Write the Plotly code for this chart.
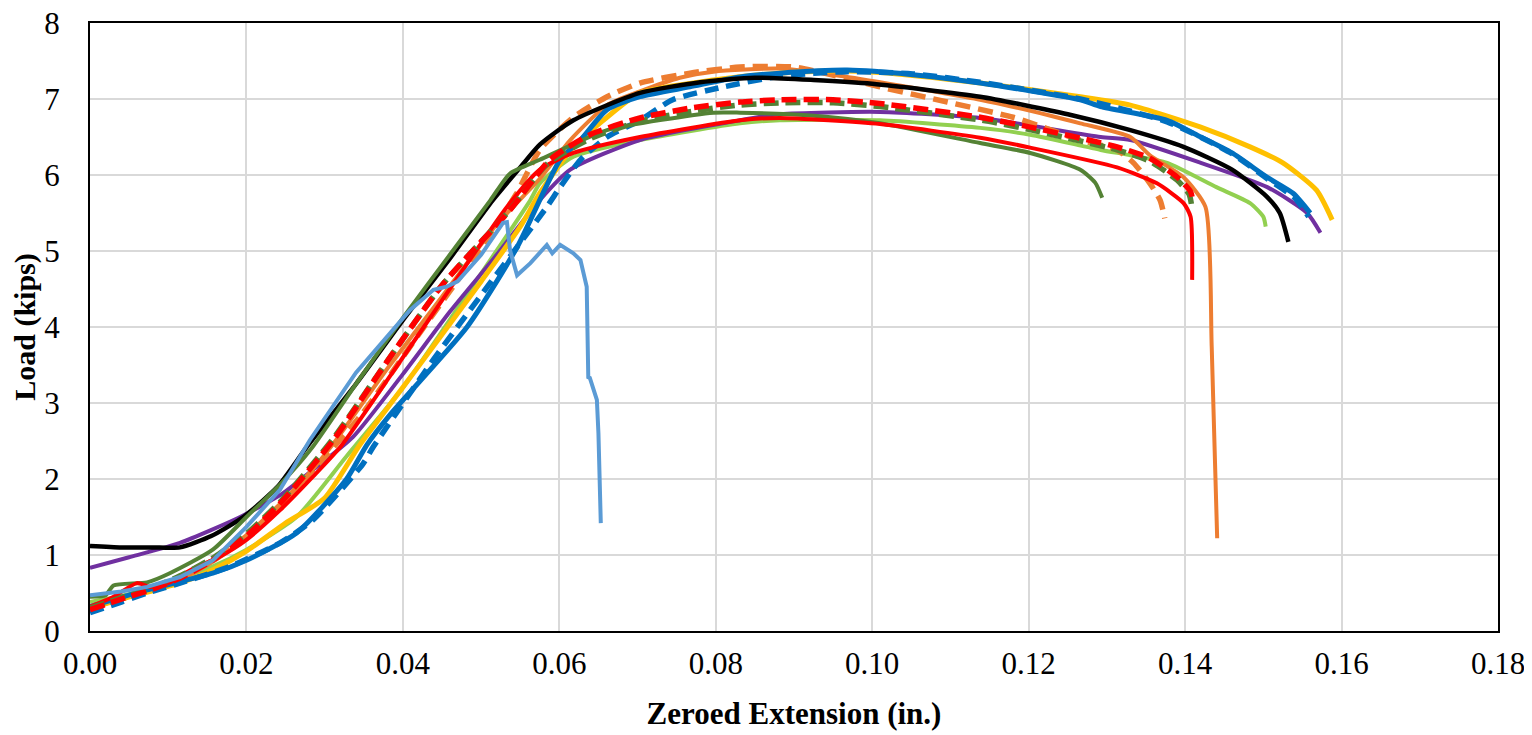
import plotly.graph_objects as go

# ---------------- data ----------------
black_x = [0, 0.004, 0.008, 0.0115, 0.0155, 0.0196, 0.024, 0.0277, 0.034, 0.04, 0.046, 0.0515, 0.055, 0.0575,
           0.0618, 0.0703, 0.078, 0.085, 0.0925, 0.1, 0.1138, 0.125, 0.133, 0.1398, 0.146, 0.1505, 0.1521, 0.1532]
black_y = [1.12, 1.1, 1.1, 1.1, 1.25, 1.5, 1.9, 2.42, 3.25, 4.09, 4.9, 5.67, 6.1, 6.4,
           6.72, 7.08, 7.22, 7.28, 7.25, 7.2, 7.03, 6.8, 6.59, 6.37, 6.07, 5.71, 5.5, 5.12]

purple_x = [0, 0.005, 0.0115, 0.0192, 0.0245, 0.0285, 0.0336, 0.04, 0.046, 0.052, 0.0575, 0.0614, 0.0703,
            0.0831, 0.0882, 0.101, 0.1138, 0.1292, 0.133, 0.142, 0.1505, 0.1556, 0.1573]
purple_y = [0.83, 0.97, 1.16, 1.5, 1.8, 2.12, 2.55, 3.38, 4.2, 4.95, 5.67, 6.07, 6.46,
            6.72, 6.8, 6.83, 6.75, 6.5, 6.46, 6.16, 5.84, 5.5, 5.24]

dkgreen_x = [0, 0.002, 0.003, 0.0073, 0.0102, 0.0157, 0.02, 0.0245, 0.0283, 0.034, 0.04, 0.046, 0.0512, 0.0537,
             0.0575, 0.0661, 0.0797, 0.0831, 0.0925, 0.101, 0.1138, 0.1202, 0.1266, 0.1285, 0.1294]
dkgreen_y = [0.45, 0.47, 0.6, 0.64, 0.76, 1.07, 1.5, 1.95, 2.4, 3.25, 4.12, 4.95, 5.67, 6.02,
             6.2, 6.59, 6.82, 6.82, 6.78, 6.68, 6.42, 6.29, 6.07, 5.9, 5.7]

ltblue_x = [0, 0.004, 0.0073, 0.0115, 0.0157, 0.02, 0.0243, 0.0281, 0.034, 0.0409, 0.0439, 0.0456, 0.047, 0.05,
            0.0528, 0.0533, 0.0537, 0.0546, 0.0563, 0.0584, 0.0591, 0.0601, 0.0618, 0.0627, 0.0635, 0.0637,
            0.0639, 0.0648, 0.065, 0.0653]
ltblue_y = [0.47, 0.52, 0.58, 0.71, 0.93, 1.37, 1.86, 2.51, 3.4, 4.22, 4.49, 4.53, 4.6, 4.95,
            5.37, 5.38, 5.01, 4.68, 4.84, 5.08, 4.97, 5.08, 4.97, 4.88, 4.53, 3.34,
            3.33, 3.04, 2.6, 1.42]

red_x = [0, 0.003, 0.006, 0.0077, 0.0102, 0.0128, 0.0166, 0.02, 0.0243, 0.0285, 0.032, 0.038, 0.044, 0.05,
         0.0533, 0.0575, 0.0618, 0.0703, 0.0831, 0.0882, 0.101, 0.1138, 0.1202, 0.1313, 0.1364, 0.1398,
         0.1407, 0.1409]
red_y = [0.32, 0.45, 0.63, 0.58, 0.64, 0.8, 0.98, 1.2, 1.59, 2.03, 2.42, 3.3, 4.2, 5.1,
         5.58, 6.07, 6.29, 6.5, 6.72, 6.75, 6.67, 6.49, 6.36, 6.1, 5.89, 5.63,
         5.45, 4.62]

reddash_x = [0, 0.004, 0.008, 0.012, 0.016, 0.02, 0.0245, 0.0311, 0.038, 0.045, 0.0537, 0.0588, 0.0639, 0.0703,
             0.0767, 0.0831, 0.0882, 0.095, 0.101, 0.1138, 0.1202, 0.1313, 0.1355, 0.139, 0.1407, 0.141]
reddash_y = [0.28, 0.42, 0.55, 0.72, 0.95, 1.25, 1.7, 2.51, 3.55, 4.55, 5.54, 6.2, 6.53, 6.75,
             6.88, 6.96, 6.99, 6.99, 6.94, 6.76, 6.63, 6.37, 6.22, 5.97, 5.78, 5.64]

dkgreendash_x = [0, 0.004, 0.008, 0.012, 0.016, 0.02, 0.0245, 0.031, 0.038, 0.045, 0.0535, 0.0585, 0.064, 0.0705,
                 0.077, 0.083, 0.0885, 0.095, 0.101, 0.114, 0.12, 0.1313, 0.1355, 0.139, 0.1405, 0.1408]
dkgreendash_y = [0.3, 0.44, 0.57, 0.75, 0.98, 1.28, 1.72, 2.52, 3.55, 4.55, 5.52, 6.15, 6.48, 6.71,
                 6.84, 6.92, 6.95, 6.95, 6.9, 6.72, 6.6, 6.33, 6.18, 5.93, 5.75, 5.62]

orange_x = [0, 0.004, 0.008, 0.012, 0.016, 0.02, 0.025, 0.031, 0.038, 0.045, 0.052, 0.0575, 0.0614, 0.0661,
            0.0703, 0.0754, 0.0797, 0.088, 0.095, 0.101, 0.1138, 0.1228, 0.1266, 0.133, 0.1355, 0.1398,
            0.1426, 0.1434, 0.1441]
orange_y = [0.3, 0.42, 0.55, 0.7, 0.93, 1.22, 1.7, 2.45, 3.45, 4.4, 5.35, 5.95, 6.46, 6.92,
            7.1, 7.28, 7.36, 7.4, 7.32, 7.22, 6.99, 6.78, 6.68, 6.5, 6.26, 5.97,
            5.58, 3.74, 1.22]

orangedash_x = [0, 0.004, 0.008, 0.012, 0.016, 0.02, 0.025, 0.0345, 0.042, 0.05, 0.0545, 0.0575, 0.0618, 0.0661,
                0.0703, 0.0767, 0.0831, 0.09, 0.0968, 0.101, 0.1096, 0.118, 0.1266, 0.1313, 0.1334, 0.1355,
                0.1368, 0.1374]
orangedash_y = [0.3, 0.42, 0.56, 0.72, 0.95, 1.25, 1.73, 2.82, 3.9, 5.05, 5.75, 6.33, 6.76, 7.03,
                7.21, 7.34, 7.42, 7.42, 7.27, 7.16, 6.96, 6.76, 6.46, 6.33, 6.16, 5.89,
                5.67, 5.43]

blue_x = [0, 0.0073, 0.0157, 0.02, 0.0264, 0.0328, 0.0354, 0.0384, 0.0482, 0.0546, 0.0601, 0.0627, 0.0661,
          0.0703, 0.0767, 0.0831, 0.0882, 0.0968, 0.1052, 0.1138, 0.1266, 0.1292, 0.1377, 0.142, 0.146,
          0.1505, 0.1538, 0.156]
blue_y = [0.32, 0.54, 0.76, 0.93, 1.29, 2.0, 2.45, 2.85, 4.0, 5.05, 6.2, 6.46, 6.86,
          7.03, 7.16, 7.29, 7.34, 7.38, 7.32, 7.21, 6.99, 6.9, 6.72, 6.5, 6.29,
          5.97, 5.76, 5.5]

bluedash_x = [0, 0.004, 0.0073, 0.0115, 0.0179, 0.0243, 0.0285, 0.0349, 0.0362, 0.0439, 0.0508, 0.0584, 0.0601,
              0.0627, 0.0661, 0.0703, 0.0745, 0.081, 0.0882, 0.0968, 0.1052, 0.1138, 0.1266, 0.1377, 0.146,
              0.1505, 0.154, 0.1558]
bluedash_y = [0.24, 0.38, 0.5, 0.63, 0.85, 1.16, 1.46, 2.2, 2.42, 3.57, 4.53, 5.58, 5.84,
              6.2, 6.5, 6.72, 6.99, 7.16, 7.3, 7.36, 7.33, 7.22, 7.0, 6.7, 6.28,
              5.95, 5.7, 5.45]

yellow_x = [0, 0.004, 0.008, 0.012, 0.016, 0.02, 0.025, 0.03, 0.0345, 0.0396, 0.045, 0.05, 0.055, 0.0575,
            0.0618, 0.0661, 0.0703, 0.0797, 0.088, 0.095, 0.101, 0.1138, 0.1266, 0.133, 0.142, 0.1483,
            0.1525, 0.1568, 0.1588]
yellow_y = [0.3, 0.42, 0.53, 0.65, 0.82, 1.05, 1.42, 1.75, 2.45, 3.15, 3.9, 4.6, 5.32, 5.76,
            6.37, 6.76, 7.08, 7.25, 7.34, 7.37, 7.35, 7.21, 7.03, 6.92, 6.63, 6.37,
            6.16, 5.8, 5.41]

ltgreen_x = [0, 0.004, 0.0073, 0.0157, 0.02, 0.0264, 0.0328, 0.04, 0.048, 0.0563, 0.0575, 0.0618, 0.0703,
             0.0831, 0.0882, 0.101, 0.1138, 0.1202, 0.1292, 0.133, 0.1377, 0.144, 0.1483, 0.15, 0.1503]
ltgreen_y = [0.38, 0.46, 0.54, 0.85, 1.07, 1.5, 2.3, 3.2, 4.4, 5.67, 5.89, 6.24, 6.46,
             6.68, 6.72, 6.72, 6.62, 6.53, 6.33, 6.26, 6.16, 5.84, 5.63, 5.45, 5.32]

x_ticks = [0, 0.02, 0.04, 0.06, 0.08, 0.10, 0.12, 0.14, 0.16, 0.18]
x_tick_labels = ["0.00", "0.02", "0.04", "0.06", "0.08", "0.10", "0.12", "0.14", "0.16", "0.18"]
y_ticks = [0, 1, 2, 3, 4, 5, 6, 7, 8]

# ---------------- figure ----------------
series = [
    # x, y, color, width, dash, shape
    (ltgreen_x, ltgreen_y, "#92D050", 4, None, "spline"),
    (purple_x, purple_y, "#7030A0", 4, None, "spline"),
    (orange_x, orange_y, "#ED7D31", 4, None, "spline"),
    (orangedash_x, orangedash_y, "#ED7D31", 5.5, "15px,8px", "spline"),
    (yellow_x, yellow_y, "#FFC000", 5, None, "spline"),
    (blue_x, blue_y, "#0070C0", 5, None, "spline"),
    (bluedash_x, bluedash_y, "#0070C0", 5.5, "14px,8px", "spline"),
    (black_x, black_y, "#000000", 4.5, None, "spline"),
    (dkgreen_x, dkgreen_y, "#548235", 4, None, "spline"),
    (red_x, red_y, "#FF0000", 4, None, "spline"),
    (dkgreendash_x, dkgreendash_y, "#548235", 5.5, "15px,7px", "spline"),
    (reddash_x, reddash_y, "#FF0000", 5.5, "15px,7px", "spline"),
    (ltblue_x, ltblue_y, "#5B9BD5", 4, None, "linear"),
]

fig = go.Figure()
for xs, ys, col, w, dash, shape in series:
    line = dict(color=col, width=w, shape=shape)
    if shape == "spline":
        line["smoothing"] = 0.6
    if dash:
        line["dash"] = dash
    fig.add_trace(go.Scatter(x=xs, y=ys, mode="lines", line=line, hoverinfo="skip"))

font_family = "Liberation Serif"
fig.update_layout(
    width=1524, height=727, autosize=False,
    margin=dict(l=82, r=34, t=15, b=104),
    paper_bgcolor="white", plot_bgcolor="white",
    showlegend=False,
    font=dict(family=font_family, size=31, color="black"),
)
fig.update_xaxes(
    range=[0, 0.18], tickvals=x_ticks, ticktext=x_tick_labels,
    showgrid=True, gridcolor="#D9D9D9", gridwidth=2,
    showline=True, linecolor="black", linewidth=2, mirror=True,
    zeroline=False, ticks="", ticklabelstandoff=4, automargin=False,
    ticklabeloverflow="allow",
    tickfont=dict(family=font_family, size=31),
    title=dict(text="<b>Zeroed Extension (in.)</b>", font=dict(family=font_family, size=31), standoff=22),
)
fig.update_yaxes(
    range=[0, 8], tickvals=y_ticks,
    showgrid=True, gridcolor="#D9D9D9", gridwidth=2,
    showline=True, linecolor="black", linewidth=2, mirror=True,
    zeroline=False, ticks="", ticklabelstandoff=22, automargin=False,
    ticklabeloverflow="allow",
    tickfont=dict(family=font_family, size=31),
    title=dict(text="<b>Load (kips)</b>", font=dict(family=font_family, size=30), standoff=12),
)

fig.write_html("out.html")
